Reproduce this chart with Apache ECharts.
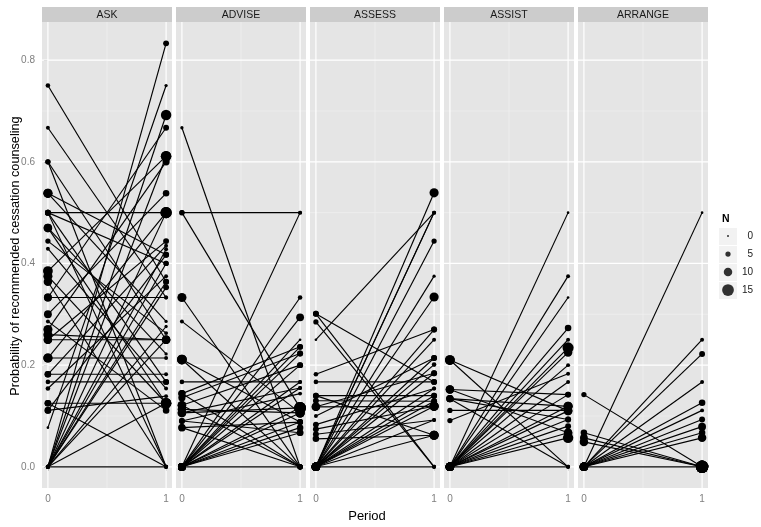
<!DOCTYPE html>
<html><head><meta charset="utf-8">
<script src="https://cdn.jsdelivr.net/npm/echarts@6/dist/echarts.min.js"></script>
<style>html,body{margin:0;padding:0;background:#fff}#c{width:761px;height:527px}</style>
</head><body><div id="c"></div>
<script>
const panels = ['ASK', 'ADVISE', 'ASSESS', 'ASSIST', 'ARRANGE'];
const yTicks = [0, 0.2, 0.4, 0.6, 0.8];
const yMinor = [0.1, 0.3, 0.5, 0.7];
const xTicks = [0, 1];
const xMinor = [0.5];
const legendN = [0, 5, 10, 15];

// ASK: probability at period 0 / period 1, and N at each period
const ask0  = [0.75,0.667,0.6,0.6,0.538,0.5,0.5,0.5,0.47,0.47,0.444,0.429,0.385,0.375,0.364,0.333,0.333,0.3,0.286,0.27,0.26,0.25,0.25,0.214,0.214,0.182,0.182,0.167,0.154,0.125,0.125,0.111,0.111,0.077,0,0,0,0,0,0,0,0,0,0,0,0,0.5,0.538];
const ask1  = [0.364,0.333,0.25,0,0.286,0.5,0.167,0.4,0.222,0.125,0.263,0.154,0.611,0.125,0,0.333,0.667,0.538,0.111,0.6,0.25,0.25,0.444,0.214,0.5,0.182,0.435,0.167,0.375,0.125,0,0.417,0.139,0.75,0.833,0.692,0.611,0.5,0.428,0.4,0.364,0.353,0.276,0.25,0.125,0,0,0.417];
const askN0 = [4,3,5,5,11,6,6,6,10,10,5,3,12,11,10,9,9,9,3,11,11,10,10,11,11,7,7,4,4,7,7,7,7,1,3,3,3,3,3,3,3,3,3,3,3,3,6,11];
const askN1 = [6,3,4,3,2,14,6,5,2,13,3,3,13,8,3,3,6,7,7,8,10,10,6,3,14,3,3,6,3,13,3,6,3,2,6,13,13,14,3,5,6,6,2,10,13,3,3,6];

// ADVISE
const advise0  = [0.667,0.5,0.5,0.333,0.286,0.211,0.211,0.167,0.144,0.144,0.136,0.121,0.121,0.113,0.106,0.106,0.09,0.09,0.077,0.077,0,0,0,0,0,0,0,0,0,0,0,0,0,0,0];
const advise1  = [0,0.5,0.116,0,0.106,0.088,0,0.167,0.236,0,0.223,0.2,0,0.106,0.155,0.116,0.144,0.067,0.088,0,0.5,0.333,0.294,0.25,0.236,0.223,0.2,0.167,0.155,0.116,0.106,0.088,0.077,0.067,0];
const adviseN0 = [2,5,5,11,3,12,12,4,8,8,8,10,10,10,10,10,6,6,8,8,9,9,9,9,9,9,9,9,9,9,9,9,9,9,9];
const adviseN1 = [5,3,15,5,11,6,5,3,6,5,6,6,5,11,3,15,3,7,6,5,3,4,9,1,6,6,6,3,3,15,11,6,7,7,5];

// ASSESS
const assess0  = [0.25,0.301,0.301,0.285,0.182,0.167,0.14,0.13,0.118,0.118,0.1,0.083,0.074,0.064,0.055,0.14,0,0,0,0,0,0,0,0,0,0,0,0,0,0,0,0,0,0];
const assess1  = [0.5,0.167,0,0,0.27,0.167,0.14,0.129,0.119,0.184,0.214,0.154,0.119,0.092,0.062,0.062,0.539,0.5,0.444,0.375,0.334,0.27,0.25,0.214,0.201,0.184,0.154,0.14,0.129,0.119,0.092,0.062,0,0.5];
const assessN0 = [1,6,6,5,4,4,6,6,10,10,3,6,6,6,7,6,10,10,10,10,10,10,10,10,10,10,10,10,10,10,10,10,10,10];
const assessN1 = [3,6,3,3,6,6,6,6,11,6,6,3,11,3,11,11,11,3,5,2,11,6,3,6,4,6,3,6,6,11,3,11,3,3];

// ASSIST
const assist0  = [0.21,0.21,0.152,0.152,0.134,0.134,0.111,0.091,0,0,0,0,0,0,0,0,0,0,0,0,0,0,0,0,0,0.134];
const assist1  = [0.11,0,0.142,0.067,0.093,0,0.111,0.183,0.5,0.375,0.333,0.273,0.25,0.234,0.225,0.2,0.167,0.119,0.11,0.093,0.08,0.067,0.057,0,0.142,0.119];
const assistN0 = [12,12,10,10,8,8,5,5,10,10,10,10,10,10,10,10,10,10,10,10,10,10,10,10,10,8];
const assistN1 = [10,3,6,10,6,3,10,3,1,3,1,7,3,14,10,3,3,11,10,6,6,10,13,3,6,11];

// ARRANGE
const arrange0  = [0.142,0.067,0.057,0.049,0,0,0,0,0,0,0,0,0,0,0];
const arrange1  = [0,0,0,0,0.5,0.25,0.222,0.167,0.126,0.111,0.093,0.079,0.067,0.057,0];
const arrangeN0 = [5,7,9,10,10,10,10,10,10,10,10,10,10,10,10];
const arrangeN1 = [16,16,16,16,1,3,6,3,7,3,6,9,7,10,16];

const panelData = [
  [ask0, ask1, askN0, askN1],
  [advise0, advise1, adviseN0, adviseN1],
  [assess0, assess1, assessN0, assessN1],
  [assist0, assist1, assistN0, assistN1],
  [arrange0, arrange1, arrangeN0, arrangeN1]
];

const FONT = '"Liberation Sans", Arial, Helvetica, sans-serif';
const L0 = 42, STEP = 134, PW = 130, PT = 22, PH = 466;
const sizeOf = n => 2 + 0.65 * n;

const grids = [], xAxes = [], yAxes = [], series = [], graphics = [];

function gridRender(params, api) {
  const cs = params.coordSys;
  const ch = [];
  const hline = (v, c, w) => { const y = api.coord([0, v])[1]; ch.push({type:'line', shape:{x1:cs.x, y1:y, x2:cs.x+cs.width, y2:y}, style:{stroke:c, lineWidth:w}}); };
  const vline = (v, c, w) => { const x = api.coord([v, 0])[0]; ch.push({type:'line', shape:{x1:x, y1:cs.y, x2:x, y2:cs.y+cs.height}, style:{stroke:c, lineWidth:w}}); };
  yMinor.forEach(v => hline(v, '#F2F2F2', 0.6));
  xMinor.forEach(v => vline(v, '#F2F2F2', 0.6));
  yTicks.forEach(v => hline(v, '#FFFFFF', 1.2));
  xTicks.forEach(v => vline(v, '#FFFFFF', 1.2));
  return {type:'group', children: ch};
}

panels.forEach((name, i) => {
  const left = L0 + STEP * i;
  grids.push({left: left, top: PT, width: PW, height: PH, show: true, backgroundColor: '#E5E5E5', borderWidth: 0, containLabel: false});
  xAxes.push({gridIndex: i, type: 'value', min: -0.05, max: 1.05,
    axisLine: {show: false},
    axisTick: {show: true, customValues: xTicks, length: 4, lineStyle: {color: '#7F7F7F', width: 1}},
    axisLabel: {customValues: xTicks, color: '#7F7F7F', fontSize: 10, fontFamily: FONT, margin: 6},
    splitLine: {show: false}});
  yAxes.push({gridIndex: i, type: 'value', min: -0.0417, max: 0.875,
    axisLine: {show: false},
    axisTick: {show: i === 0, customValues: yTicks, length: 4, lineStyle: {color: '#7F7F7F', width: 1}},
    axisLabel: {show: i === 0, customValues: yTicks, color: '#7F7F7F', fontSize: 10, fontFamily: FONT, margin: 7, formatter: v => Number(v).toFixed(1)},
    splitLine: {show: false}});
  const [p0, p1, n0, n1] = panelData[i];
  series.push({type: 'custom', xAxisIndex: i, yAxisIndex: i, silent: true, z: 1, data: [[0, 0]], renderItem: gridRender});
  series.push({type: 'custom', xAxisIndex: i, yAxisIndex: i, silent: true, z: 2,
    data: p0.map((v, j) => [v, p1[j]]),
    renderItem: (params, api) => {
      const a = api.coord([0, api.value(0)]);
      const b = api.coord([1, api.value(1)]);
      return {type: 'line', shape: {x1: a[0], y1: a[1], x2: b[0], y2: b[1]}, style: {stroke: '#000', lineWidth: 1.15}};
    }});
  series.push({type: 'scatter', xAxisIndex: i, yAxisIndex: i, silent: true, z: 3,
    symbolSize: val => sizeOf(val[2]),
    itemStyle: {color: '#000', opacity: 1},
    data: p0.map((v, j) => [0, v, n0[j]]).concat(p1.map((v, j) => [1, v, n1[j]]))});
  graphics.push({type: 'rect', shape: {x: left, y: 7, width: PW, height: 15}, style: {fill: '#CCCCCC'}, silent: true});
  graphics.push({type: 'text', x: left + PW / 2, y: 15, style: {text: name, textAlign: 'center', textVerticalAlign: 'middle', font: '10.5px ' + FONT, fill: '#1A1A1A'}, silent: true});
});

// Size legend grid
const LI = panels.length;
grids.push({left: 719, top: 227, width: 18, height: 72, show: true, backgroundColor: '#F2F2F2', borderWidth: 0});
xAxes.push({gridIndex: LI, type: 'value', min: -1, max: 1, show: false});
yAxes.push({gridIndex: LI, type: 'category', data: legendN.map(String), inverse: true, position: 'right',
  axisLine: {show: false}, axisTick: {show: false},
  axisLabel: {color: '#1A1A1A', fontSize: 10, fontFamily: FONT, align: 'right', margin: 16},
  splitLine: {show: true, lineStyle: {color: '#FFFFFF', width: 1}}});
series.push({type: 'scatter', xAxisIndex: LI, yAxisIndex: LI, silent: true, z: 3,
  symbolSize: val => sizeOf(val[2]), itemStyle: {color: '#000'},
  data: legendN.map((n, k) => [0, k, n])});

graphics.push({type: 'text', x: 722, y: 219, style: {text: 'N', textAlign: 'left', textVerticalAlign: 'middle', font: 'bold 10.5px ' + FONT, fill: '#000'}, silent: true});
graphics.push({type: 'text', x: 367, y: 516, style: {text: 'Period', textAlign: 'center', textVerticalAlign: 'middle', font: '13px ' + FONT, fill: '#000'}, silent: true});
graphics.push({type: 'text', x: 15, y: 256, rotation: Math.PI / 2, style: {text: 'Probability of recommended cessation counseling', textAlign: 'center', textVerticalAlign: 'middle', font: '12.7px ' + FONT, fill: '#000'}, silent: true});

const chart = echarts.init(document.getElementById('c'), null, {renderer: 'canvas'});
chart.setOption({
  animation: false,
  backgroundColor: '#FFFFFF',
  grid: grids, xAxis: xAxes, yAxis: yAxes, series: series,
  graphic: {elements: graphics}
});
</script></body></html>
